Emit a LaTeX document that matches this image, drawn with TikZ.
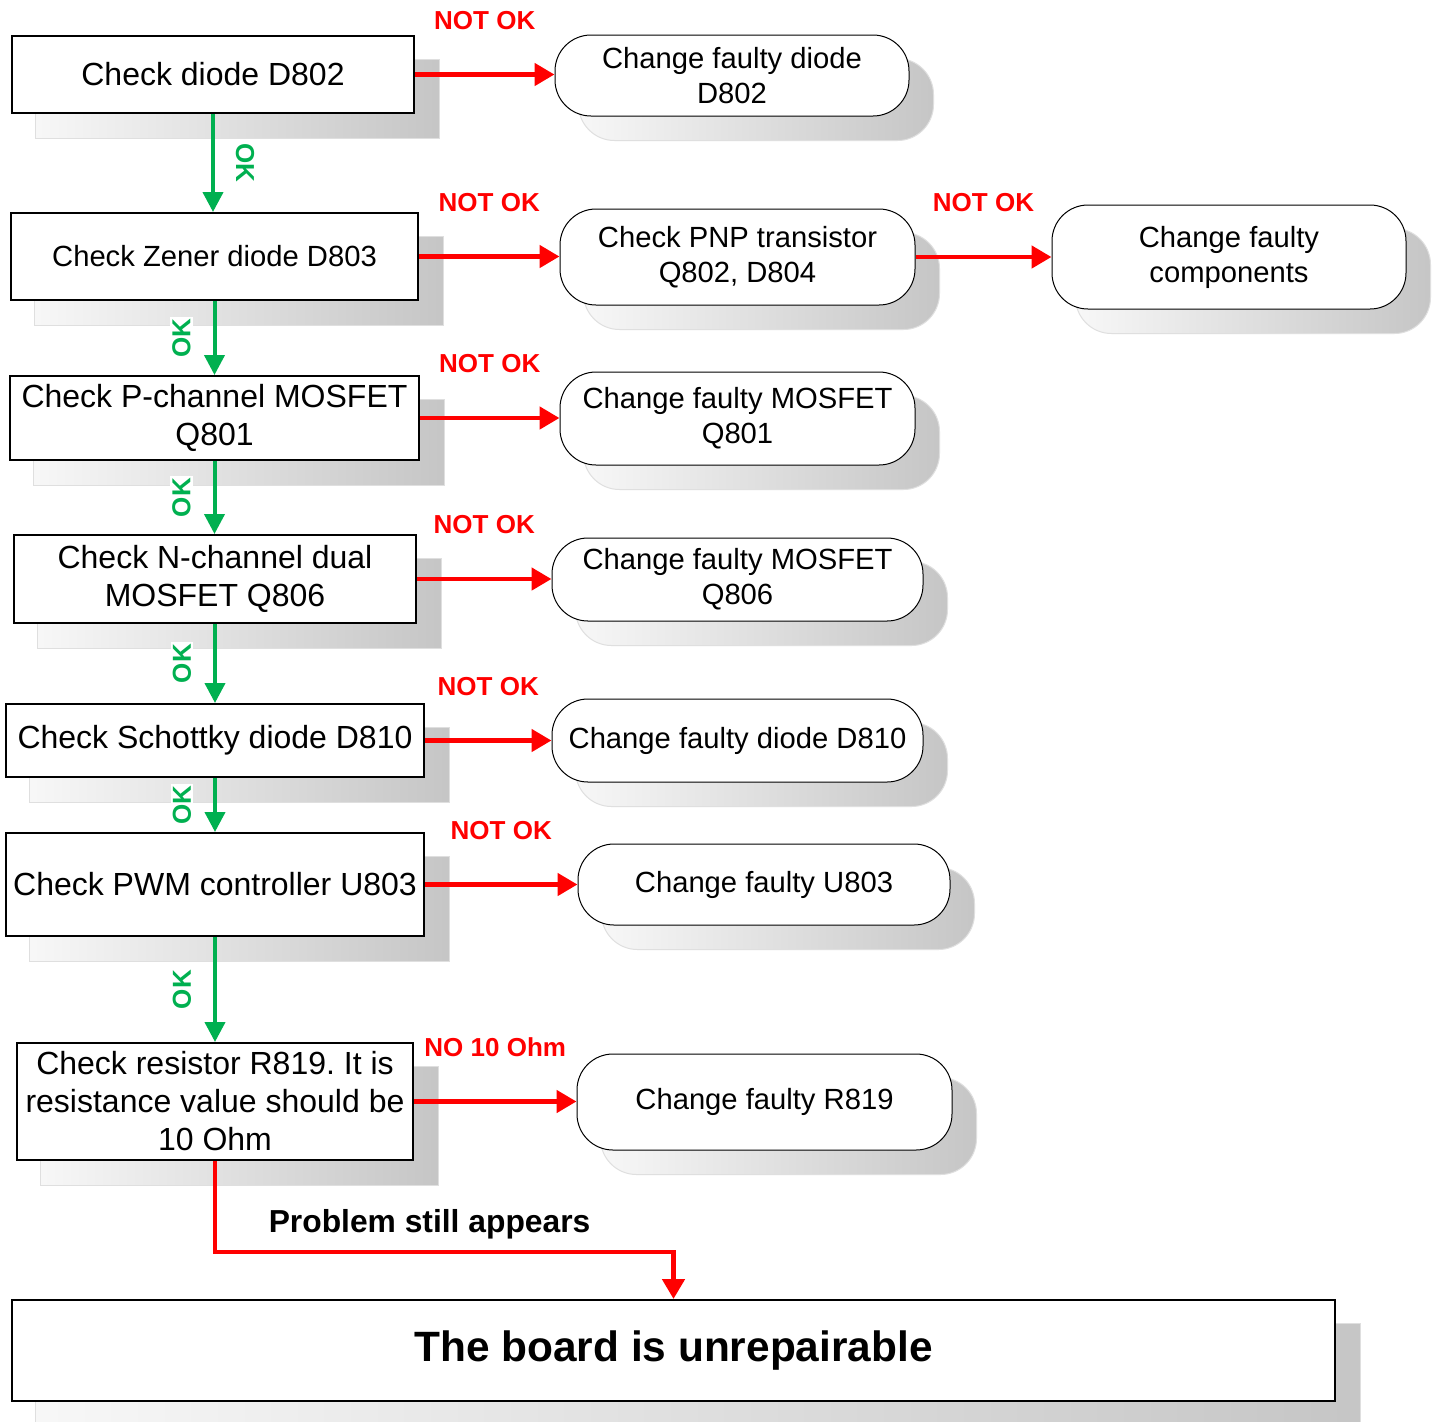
\documentclass[tikz,border=0pt]{standalone}
\usepackage{fontspec}
\setmainfont{Liberation Sans}
\usetikzlibrary{arrows.meta,backgrounds}
\frenchspacing

\definecolor{okgreen}{RGB}{0,176,80}

\tikzset{
  chk/.style={draw, line width=1pt, fill=white, inner sep=0pt, align=center,
    font=\fontsize{16}{19}\selectfont},
  fix/.style={draw, line width=0.5pt, fill=white, rounded corners=18pt, inner sep=0pt,
    align=center, font=\fontsize{14.6}{17.5}\selectfont},
  boxshade/.style={left color=gray!6, right color=gray!45, draw=gray!25, line width=0.5pt},
  notok/.style={-{Triangle[length=10pt,width=11pt]}, line width=2.4pt, red},
  okarrow/.style={-{Triangle[length=10pt,width=10pt]}, line width=2pt, okgreen},
  lbl/.style={font=\fontsize{13}{15}\selectfont\bfseries},
}

\begin{document}
\begin{tikzpicture}[x=0.5pt, y=-0.5pt]

\useasboundingbox (0,0) rectangle (1437,1421);

% Checks on the left
\node [chk, minimum width=201pt, minimum height=38.5pt] (r1) at (213,74.5) {Check diode D802};
\node [chk, minimum width=203.5pt, minimum height=43.5pt, font=\fontsize{14.6}{17.5}\selectfont] (r2) at (214.5,256.5) {Check Zener diode D803};
\node [chk, minimum width=204.5pt, minimum height=42pt] (r3) at (214.5,418) {Check P-channel MOSFET\\Q801};
\node [chk, minimum width=201pt, minimum height=44pt] (r4) at (215,579) {Check N-channel dual\\MOSFET Q806};
\node [chk, minimum width=209pt, minimum height=36.5pt] (r5) at (215,740.5) {Check Schottky diode D810};
\node [chk, minimum width=209pt, minimum height=51.5pt] (r6) at (215,884.5) {Check PWM controller U803};
\node [chk, minimum width=198pt, minimum height=58.5pt] (r7) at (215,1101.5) {Check resistor R819. It is\\resistance value should be\\10 Ohm};
\node [chk, minimum width=661.5pt, minimum height=50.5pt, font=\fontsize{21.2}{25}\selectfont\bfseries] (board) at (673.5,1350.5) {The board is unrepairable};

% Fixes on the right
\node [fix, minimum width=177pt, minimum height=40.5pt] (c1) at (732,75.5) {Change faulty diode\\D802};
\node [fix, minimum width=177.5pt, minimum height=48pt] (c2) at (737.5,257) {Check PNP transistor\\Q802, D804};
\node [fix, minimum width=177pt, minimum height=52pt] (c3) at (1229,257) {Change faulty\\components};
\node [fix, minimum width=177.5pt, minimum height=46.5pt] (c4) at (737.5,418.5) {Change faulty MOSFET\\Q801};
\node [fix, minimum width=185.5pt, minimum height=41.5pt] (c5) at (737.5,579.5) {Change faulty MOSFET\\Q806};
\node [fix, minimum width=185.5pt, minimum height=41.5pt] (c6) at (737.5,740.5) {Change faulty diode D810};
\node [fix, minimum width=186pt, minimum height=40.5pt] (c7) at (764,884.5) {Change faulty U803};
\node [fix, minimum width=187.5pt, minimum height=48pt] (c8) at (764.5,1102) {Change faulty R819};

% Shadows
\begin{scope}[on background layer]
\fill [white] (0,0) rectangle (1437,1421);
\foreach \n in {r1,r2,r3,r4,r5,r6,r7,board}
  \shade [boxshade] ([shift={(24,24)}]\n.north west) rectangle ([shift={(24,24)}]\n.south east);
\foreach \n in {c1,c2,c3,c4,c5,c6,c7,c8}
  \shade [boxshade, rounded corners=18pt] ([shift={(24,24)}]\n.north west) rectangle ([shift={(24,24)}]\n.south east);
\end{scope}

% NOT OK arrows
\foreach \a/\b/\t in {r1/c1/NOT OK, r2/c2/NOT OK, c2/c3/NOT OK, r3/c4/NOT OK,
                      r4/c5/NOT OK, r5/c6/NOT OK, r6/c7/NOT OK, r7/c8/NO 10 Ohm}
  \draw [notok] (\a.east) -- (\a.east -| \b.west) node [midway, yshift=27pt, lbl] (no-\b) {\t};

% OK arrows
\draw [okarrow] (r1.south) -- (r1.south |- r2.north) node [midway, xshift=16pt, rotate=-90, lbl] (ok-r2) {OK};
\foreach \a/\b in {r2/r3, r3/r4, r4/r5, r5/r6, r6/r7}
  \draw [okarrow] (\a.south) -- (\a.south |- \b.north) node [midway, xshift=-16.5pt, rotate=90, lbl, fill=white, inner sep=1pt] (ok-\b) {OK};

% Last way out
\coordinate (bend) at ([yshift=23.5pt]board.north);
\draw [notok] (r7.south) |- (bend) node [pos=0.734, yshift=14pt, text=black, font=\fontsize{15.9}{18}\selectfont\bfseries] (prob) {Problem still appears} -- (board.north);

\end{tikzpicture}
\end{document}
